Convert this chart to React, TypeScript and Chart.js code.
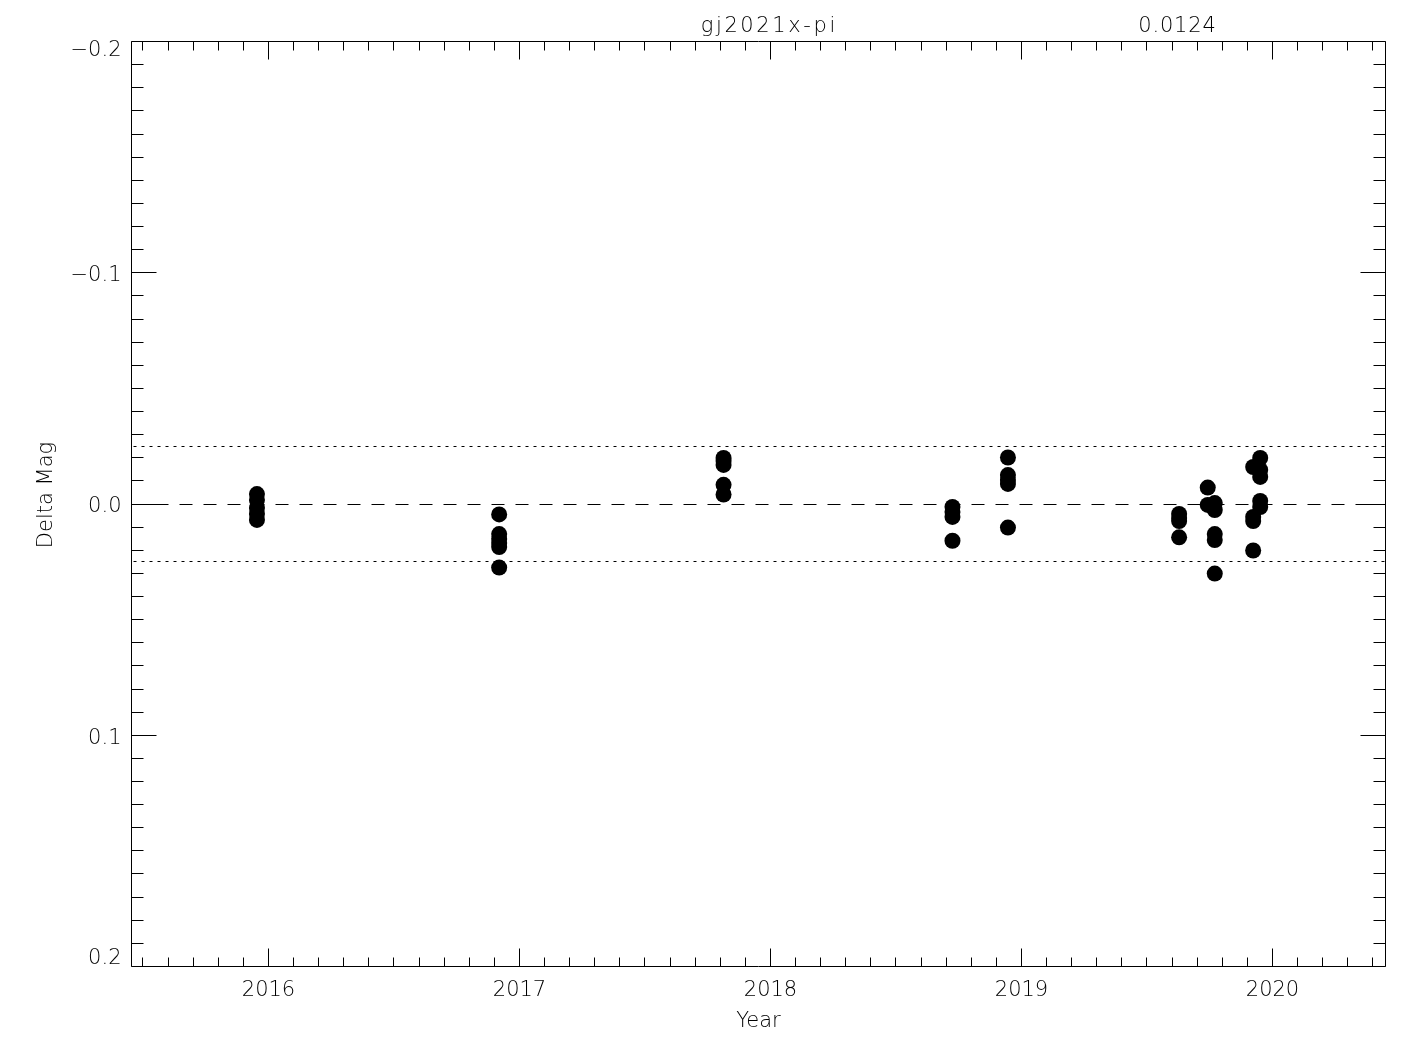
import React, { useEffect, useRef } from "react";
import { Chart, registerables } from "chart.js";

Chart.register(...registerables);

// ---- data ----
const epochYears: number[] = [
  2015.954, 2015.954, 2015.954, 2015.954, 2015.954,
  2016.919, 2016.919, 2016.919, 2016.919, 2016.919, 2016.919,
  2017.813, 2017.813, 2017.813, 2017.813, 2017.813,
  2018.725, 2018.725, 2018.725, 2018.725,
  2018.946, 2018.946, 2018.946, 2018.946, 2018.946,
  2019.628, 2019.628, 2019.628, 2019.628,
  2019.742, 2019.742,
  2019.770, 2019.770, 2019.770, 2019.770, 2019.770,
  2019.923, 2019.923, 2019.923, 2019.923,
  2019.951, 2019.951, 2019.951, 2019.951, 2019.951,
];
const deltaMag: number[] = [
  -0.0043, -0.0017, 0.0017, 0.0043, 0.0069,
  0.0045, 0.013, 0.0151, 0.0169, 0.0186, 0.0275,
  -0.0199, -0.0186, -0.0169, -0.0083, -0.0041,
  0.0013, 0.0035, 0.0056, 0.0159,
  -0.0201, -0.0125, -0.0104, -0.0087, 0.0102,
  0.0043, 0.0061, 0.0074, 0.0144,
  -0.0071, 0.0004,
  -0.0004, 0.0026, 0.013, 0.0156, 0.0301,
  -0.016, 0.0056, 0.0074, 0.0201,
  -0.0199, -0.0147, -0.0117, -0.0013, 0.0013,
];
const xTickYears: number[] = [2016, 2017, 2018, 2019, 2020];
const yTickValues: number[] = [-0.2, -0.1, 0.0, 0.1, 0.2];
const xRange: number[] = [2015.4542, 2020.4502];
const yRange: number[] = [-0.2, 0.2];
const zeroLine = 0.0;
const limitLines: number[] = [-0.025, 0.025];
const titleLeft = "gj2021x-pi";
const titleRight = "0.0124";
const xTitle = "Year";
const yTitle = "Delta Mag";

const FONT_FAMILY = '"DejaVu Sans", "Liberation Sans", sans-serif';
const FONT_PX = 21;
const fontStr = `200 ${FONT_PX}px ${FONT_FAMILY}`;

const fmtY = (v: number) => {
  const s = Math.abs(v) < 1e-9 ? "0.0" : v.toFixed(1);
  return s.replace("-", "\u2212");
};

const idlPlugin = {
  id: "idlFrame",
  beforeDatasetsDraw(chart: any) {
    const { ctx, chartArea } = chart;
    const { left, right, top, bottom } = chartArea;
    const xs = chart.scales.x;
    const ys = chart.scales.y;
    const snap = (p: number) => Math.floor(p) + 0.5;
    ctx.save();
    ctx.strokeStyle = "#000";
    ctx.lineWidth = 1;

    // zero dashed line
    ctx.setLineDash([13, 11]);
    const yz = snap(ys.getPixelForValue(zeroLine));
    ctx.beginPath();
    ctx.moveTo(left, yz);
    ctx.lineTo(right, yz);
    ctx.stroke();

    // limit dotted lines
    ctx.setLineDash([3, 5]);
    for (const v of limitLines) {
      const yy = snap(ys.getPixelForValue(v));
      ctx.beginPath();
      ctx.moveTo(left + 2, yy);
      ctx.lineTo(right, yy);
      ctx.stroke();
    }
    ctx.setLineDash([]);

    // frame
    ctx.beginPath();
    ctx.rect(left, top, right - left, bottom - top);
    ctx.stroke();

    // x ticks (bottom & top)
    ctx.beginPath();
    const xMajor = 18, xMinor = 9;
    for (let i = Math.ceil(xRange[0] * 10); i <= Math.floor(xRange[1] * 10); i++) {
      const v = i / 10;
      const px = snap(xs.getPixelForValue(v));
      const len = i % 10 === 0 ? xMajor : xMinor;
      ctx.moveTo(px, bottom);
      ctx.lineTo(px, bottom - len);
      ctx.moveTo(px, top);
      ctx.lineTo(px, top + len);
    }
    // y ticks (left & right)
    const yMajor = 25, yMinor = 12;
    for (let i = Math.round(yRange[0] * 100); i <= Math.round(yRange[1] * 100); i++) {
      const v = i / 100;
      const py = snap(ys.getPixelForValue(v));
      const len = i % 10 === 0 ? yMajor : yMinor;
      ctx.moveTo(left, py);
      ctx.lineTo(left + len, py);
      ctx.moveTo(right, py);
      ctx.lineTo(right - len, py);
    }
    ctx.stroke();

    // y tick labels
    ctx.fillStyle = "#000";
    ctx.font = fontStr;
    ctx.textAlign = "right";
    ctx.textBaseline = "middle";
    yTickValues.forEach((v, idx) => {
      let off = 3;
      if (idx === 0) off = 9;
      if (idx === yTickValues.length - 1) off = -8;
      ctx.fillText(fmtY(v), left - 10, ys.getPixelForValue(v) + off);
    });

    // titles
    ctx.textAlign = "center";
    ctx.textBaseline = "alphabetic";
    ctx.fillText(xTitle, (left + right) / 2, 1027);
    ctx.save();
    (ctx as any).letterSpacing = "2.6px";
    ctx.fillText(titleLeft, 768 + 1.3, 32);
    (ctx as any).letterSpacing = "0.8px";
    ctx.fillText(titleRight, 1177 + 0.4, 32);
    ctx.restore();
    ctx.save();
    ctx.translate(52, 495);
    ctx.rotate(-Math.PI / 2);
    ctx.fillText(yTitle, 0, 0);
    ctx.restore();

    ctx.restore();
  },
};

export default function App() {
  const canvasRef = useRef<HTMLCanvasElement | null>(null);

  useEffect(() => {
    const canvas = canvasRef.current;
    if (!canvas) return;
    const points = epochYears.map((x, i) => ({ x, y: deltaMag[i] }));
    const chart = new Chart(canvas, {
      type: "scatter",
      data: {
        datasets: [
          {
            label: "Delta Mag",
            data: points,
            pointRadius: 8,
            pointHoverRadius: 8,
            pointBorderWidth: 0,
            pointBackgroundColor: "#000",
            pointBorderColor: "#000",
            showLine: false,
          },
        ],
      },
      options: {
        responsive: false,
        animation: false,
        devicePixelRatio: 1,
        events: [],
        layout: { padding: { top: 41.5, right: 39.5, left: 0, bottom: 0 } },
        plugins: {
          legend: { display: false },
          tooltip: { enabled: false },
          title: { display: false },
        },
        scales: {
          x: {
            type: "linear",
            position: "bottom",
            min: xRange[0],
            max: xRange[1],
            grid: { display: false, drawTicks: false },
            border: { display: false },
            afterBuildTicks: (scale: any) => {
              scale.ticks = xTickYears.map((v) => ({ value: v }));
            },
            afterFit: (scale: any) => {
              scale.height = 83.5;
            },
            ticks: {
              autoSkip: false,
              maxRotation: 0,
              padding: 11,
              color: "#000",
              font: { family: FONT_FAMILY, size: FONT_PX, weight: "200", lineHeight: 1.2 },
              callback: (v: any) => String(v),
            },
          },
          y: {
            type: "linear",
            position: "left",
            reverse: true,
            min: yRange[0],
            max: yRange[1],
            grid: { display: false, drawTicks: false },
            border: { display: false },
            afterBuildTicks: (scale: any) => {
              scale.ticks = yTickValues.map((v) => ({ value: v }));
            },
            afterFit: (scale: any) => {
              scale.width = 131.5;
            },
            ticks: { display: false },
          },
        },
      },
      plugins: [idlPlugin],
    });
    return () => chart.destroy();
  }, []);

  return (
    <div style={{ position: "fixed", left: 0, top: 0, width: 1425, height: 1050, background: "#fff" }}>
      <canvas ref={canvasRef} width={1425} height={1050} style={{ display: "block" }} />
    </div>
  );
}
